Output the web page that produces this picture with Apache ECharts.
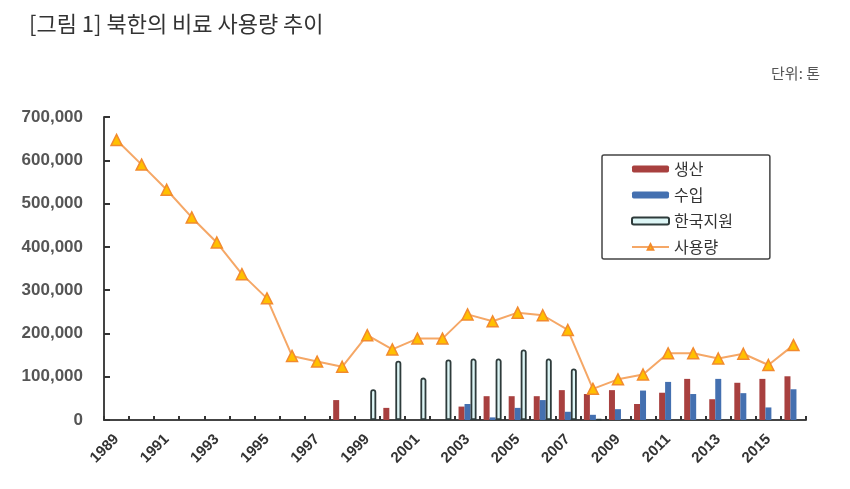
<!DOCTYPE html>
<html>
<head>
<meta charset="utf-8">
<script src="https://cdn.jsdelivr.net/npm/echarts@6/dist/echarts.min.js"></script>
<style>
html,body{margin:0;padding:0;background:#fff;}
#c{width:850px;height:489px;}
</style>
</head>
<body>
<div id="c"></div>
<script>
const years = ['1989','1990','1991','1992','1993','1994','1995','1996','1997','1998','1999','2000','2001','2002','2003','2004','2005','2006','2007','2008','2009','2010','2011','2012','2013','2014','2015','2016'];
const production = [null,null,null,null,null,null,null,null,null,46000,null,28000,null,null,31000,55000,55000,55000,69000,60000,69000,37000,63000,95000,48000,86000,95000,101000];
const imports = [null,null,null,null,null,null,null,null,null,null,null,null,null,null,37000,6000,28000,46000,19000,12000,25000,68000,88000,60000,95000,62000,29000,71000];
const koreaAid = [null,null,null,null,null,null,null,null,null,null,71000,137000,98000,140000,142000,142000,163000,142000,119000,2000,null,null,null,null,null,null,null,null];
const usage = [647000,590000,532000,468000,410000,337000,281000,148000,135000,123000,196000,163000,188000,188000,244000,228000,248000,242000,208000,72000,94000,105000,154000,154000,142000,153000,127000,173000];
const yTicks = [0,100000,200000,300000,400000,500000,600000,700000];

const fmt = v => String(v).replace(/\B(?=(\d{3})+(?!\d))/g, ',');
const chart = echarts.init(document.getElementById('c'));
chart.setOption({
  animation:false,
  backgroundColor:'#fff',
  title:[
    {text:'[그림 1] 북한의 비료 사용량 추이', left:24, top:8,
     textStyle:{fontFamily:'Noto Sans CJK KR', fontSize:22, fontWeight:'normal', color:'#333'}},
    {text:'단위: 톤', right:25, top:61,
     textStyle:{fontFamily:'Noto Sans CJK KR', fontSize:15, fontWeight:'normal', color:'#555'}}
  ],
  legend:{
    orient:'vertical', left:602, top:155,
    padding:[6,37,4,29],
    borderColor:'#444', borderWidth:1.5, borderRadius:2,
    itemWidth:37, itemHeight:7, itemGap:10,
    textStyle:{fontFamily:'Noto Sans CJK KR', fontSize:16, color:'#333', lineHeight:16},
    data:['생산','수입','한국지원','사용량']
  },
  grid:{left:104, right:44, top:117, bottom:69},
  xAxis:{
    type:'category', data:years, boundaryGap:true,
    axisLine:{lineStyle:{color:'#444', width:2}},
    axisTick:{show:true, inside:true, length:4, interval:0, lineStyle:{color:'#333', width:2}},
    axisLabel:{interval:1, rotate:45, margin:17, fontFamily:'Liberation Sans', fontSize:15, fontWeight:'bold', color:'#333'}
  },
  yAxis:{
    type:'value', min:0, max:700000, interval:100000,
    splitLine:{show:false},
    axisLine:{show:true, lineStyle:{color:'#444', width:2}},
    axisTick:{show:true, inside:true, length:6, lineStyle:{color:'#333', width:2}},
    axisLabel:{margin:21, fontFamily:'Liberation Sans', fontSize:17, fontWeight:'bold', color:'#555',
      formatter: v => yTicks.indexOf(v) >= 0 ? fmt(v) : ''}
  },
  series:[
    {name:'생산', type:'bar', data:production, barWidth:6, barGap:'0%',
     itemStyle:{color:'#A8403F'}},
    {name:'수입', type:'bar', data:imports, barWidth:6, barGap:'0%',
     itemStyle:{color:'#4470B0'}},
    {name:'한국지원', type:'bar', data:koreaAid, barWidth:6, barGap:'0%',
     itemStyle:{color:'#DDF6F6', borderColor:'#2E3B3B', borderWidth:1.8, borderRadius:[3,3,0,0]}},
    {name:'사용량', type:'line', data:usage, symbol:'triangle', symbolSize:11,
     lineStyle:{color:'#F5A766', width:2},
     itemStyle:{color:'#FFC000', borderColor:'#F28A2E', borderWidth:1.5}}
  ]
});
</script>
</body>
</html>
